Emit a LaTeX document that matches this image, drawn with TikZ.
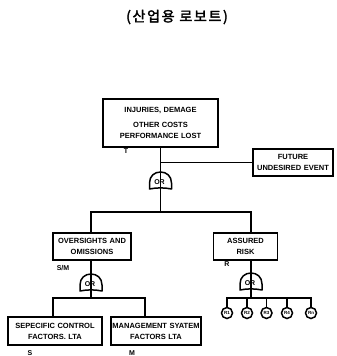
\documentclass[tikz,border=0pt]{standalone}
\usepackage{fontspec}
\setmainfont{Liberation Sans}
\newfontfamily\cjkfont[LetterSpace=12, FakeBold=2.5]{Noto Sans CJK KR}
\usetikzlibrary{calc}

\newcommand\boxfont{\bfseries\fontsize{7.5}{11}\selectfont}
\newcommand\tagfont{\bfseries\fontsize{7}{7}\selectfont}

\tikzset{
  wire/.style={line width=1.5pt},
  box/.style={draw, line width=1.5pt, inner xsep=0pt, inner ysep=1pt,
              align=center, font=\boxfont},
  tag/.style={inner sep=0pt, font=\tagfont},
  gatelabel/.style={inner sep=0pt, font=\bfseries\fontsize{7}{7}\selectfont},
  event/.style={draw, circle, line width=1.5pt, minimum size=11pt, inner sep=0pt,
                font=\bfseries\fontsize{4.5}{5}\selectfont},
  % OR gate: dome with a slightly hollow base; -in on top, -out at the base
  orgate/.pic={
    \draw[line width=1.5pt, line join=round]
      (-11,0) -- (-11,-6) .. controls (-11,-13) and (-6,-17) .. (0,-17)
      .. controls (6,-17) and (11,-13) .. (11,-6) -- (11,0)
      .. controls (4,-1.5) and (-4,-1.5) .. cycle;
    \coordinate (-out) at (0,0);
    \coordinate (-in) at (0,-17);
    \draw[wire] (-in) -- (-out);
    \node[gatelabel] (-lbl) at (-1,-7) {OR};
  }
}

\begin{document}
\begin{tikzpicture}[x=1pt, y=-1pt]
\useasboundingbox (0,0) rectangle (337,356);

% heading
\node[inner sep=0pt, font=\cjkfont\fontsize{14}{16}\selectfont] (title) at (177,17) {(산업용 로보트)};

% top event and the future branch
\node[box, text width=115pt, minimum height=48pt] (top) at (160.5,123)
  {INJURIES, DEMAGE\\[4pt]OTHER COSTS\\PERFORMANCE LOST};
\node[tag] (tT) at (126,151) {T};
\node[box, text width=80pt, minimum height=27pt] (future) at (293,162.5)
  {FUTURE\\UNDESIRED EVENT};

\pic (g1) at (160.5,189) {orgate};

% second level
\node[box, text width=78pt, minimum height=27pt] (over) at (92,246.5)
  {OVERSIGHTS AND\\OMISSIONS};
\node[tag] (tSM) at (63,268) {S/M};
\node[box, text width=64pt, minimum height=27pt] (risk) at (245.5,246.5)
  {ASSURED\\RISK};
\node[tag] (tR) at (227,264) {R};

\pic (g2) at (91,291) {orgate};
\pic (g3) at (251,290) {orgate};

% third level
\node[box, text width=94pt, minimum height=28pt] (spec) at (55,331)
  {SEPECIFIC CONTROL\\FACTORS. LTA};
\node[tag] (tS) at (30,353) {S};
\node[box, text width=90pt, minimum height=28pt] (mgmt) at (156,331)
  {MANAGEMENT SYATEM\\FACTORS LTA};
\node[tag] (tM) at (132,353) {M};

% assumed risks
\node[event] (r1) at (227,313) {R1};
\node[event] (r2) at (247,313) {R2};
\node[event] (r3) at (266.5,313) {R3};
\node[event] (r4) at (287,313) {R4};
\node[event] (r5) at (311,313) {Rn};

% connectors
\draw[wire] (top.south) -- (g1-in);
\coordinate (tap) at (top.south |- future.west);
\draw[wire] (tap) -- (future.west);

\coordinate (j1) at ($(g1-out)+(0,23)$);
\draw[wire] (g1-out) -- (j1);
\draw[wire] (j1) -| (g2-in |- over.north);
\draw[wire] (j1) -| (g3-in |- risk.north);
\draw[wire] (g2-in |- over.south) -- (g2-in);
\draw[wire] (g3-in |- risk.south) -- (g3-in);

\coordinate (j2) at ($(g2-out)+(0,7)$);
\draw[wire] (g2-out) -- (j2);
\draw[wire] (j2) -| ([xshift=-2pt]spec.north);
\draw[wire] (j2) -| ([xshift=-11pt]mgmt.north);

\coordinate (j3) at ($(g3-out)+(0,8)$);
\draw[wire] (g3-out) -- (j3);
\foreach \r in {r1,r2,r3,r4,r5}
  \draw[wire] (j3) -| (\r.north);
\end{tikzpicture}
\end{document}
